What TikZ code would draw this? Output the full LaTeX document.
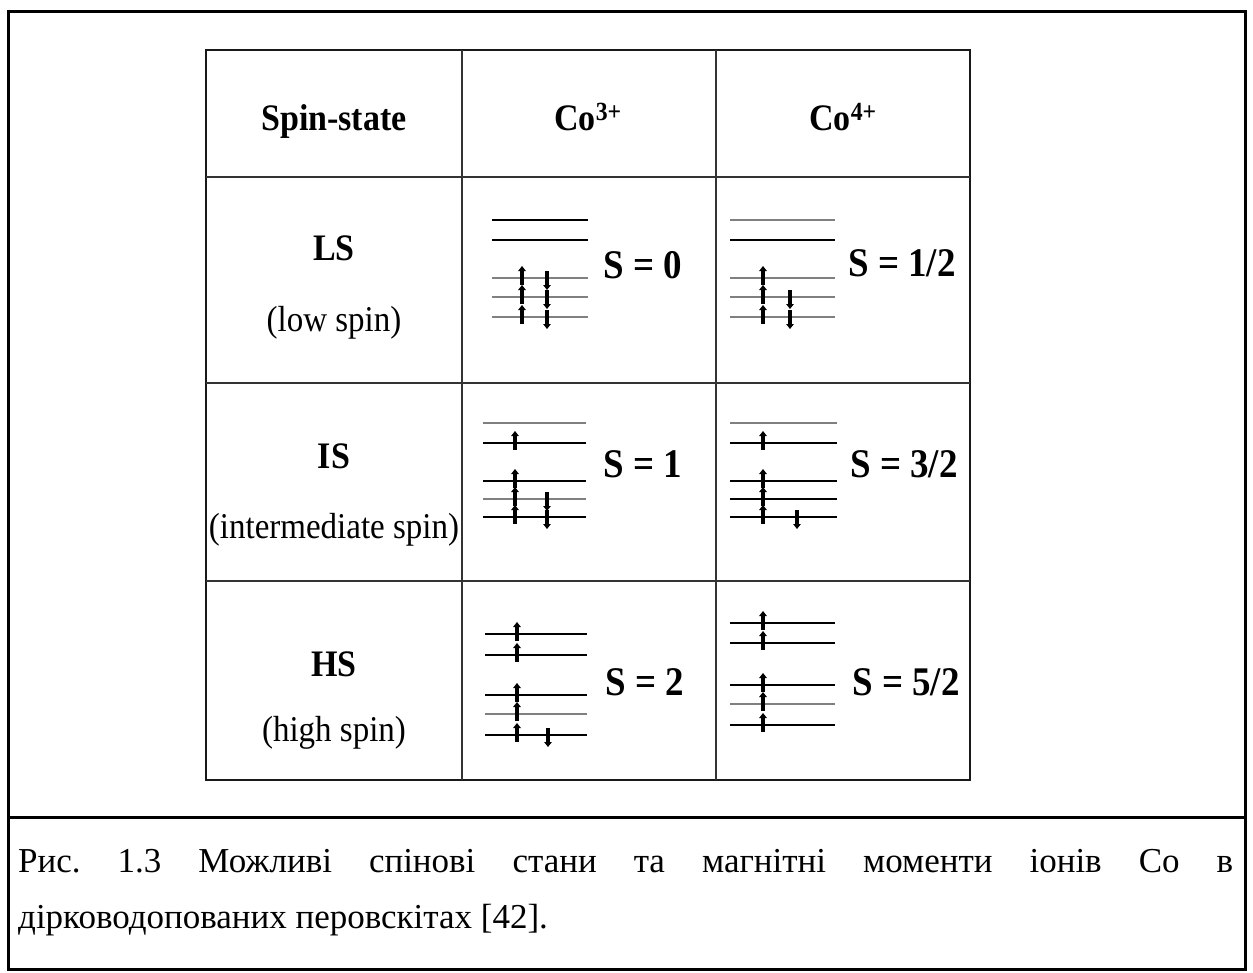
\documentclass[tikz,border=0pt]{standalone}
\usepackage{graphicx}
\usepackage{fontspec}
\setmainfont{Liberation Serif}
\usetikzlibrary{arrows.meta}
% slightly taller letterforms for the table text
\newcommand\tall[1]{\scalebox{1}[1.1]{#1}}
\begin{document}
\begin{tikzpicture}[x=1pt,y=-1pt,
  outerframe/.style={line width=3pt},
  tabout/.style={line width=2.2pt, black!90},
  tabin/.style={line width=1.3pt, black!80},
  lvl/.style={line width=1.5pt, black},
  lvlg/.style={line width=1.6pt, black!50},
  spin/.style={line width=3.4pt, -{Triangle[length=5pt,width=7.5pt]}},
  hdr/.style={font=\fontsize{34}{40}\selectfont\bfseries, inner sep=0pt, anchor=base},
  lab/.style={font=\fontsize{33}{38}\selectfont, inner sep=0pt},
  sval/.style={font=\fontsize{37}{42}\selectfont\bfseries, anchor=base west, inner sep=0pt},
  captext/.style={font=\fontsize{35}{40}\selectfont, inner sep=0pt, anchor=base west},
]
\newcommand\spinup[2]{\draw[spin] (#1,#2+7) -- (#1,#2-12);}
\newcommand\spindn[2]{\draw[spin] (#1,#2-7) -- (#1,#2+12);}

\useasboundingbox (0,0) rectangle (1253,972);

% outer frame and caption separator
\draw[outerframe] (8,11) rectangle (1245,969);
\draw[outerframe] (8,817) -- (1245,817);

% table grid
\draw[tabout] (206,50) rectangle (970,780);
\draw[tabin] (462,50) -- (462,780);
\draw[tabin] (716,50) -- (716,780);
\draw[tabin] (206,177) -- (970,177);
\draw[tabin] (206,383) -- (970,383);
\draw[tabin] (206,581) -- (970,581);

% header row
\node[hdr] (spinstate) at (334,130) {\tall{Spin-state}};
\node[hdr] (co3) at (588,130) {\tall{Co\textsuperscript{3+}}};
\node[hdr] (co4) at (843,130) {\tall{Co\textsuperscript{4+}}};

% row labels
\node[hdr] (ls) at (334,260) {\tall{LS}};
\node[lab] (lsn) at (334,323) {\tall{(low spin)}};
\node[hdr] (is) at (334,468) {\tall{IS}};
\node[lab] (isn) at (334,530) {\tall{(intermediate spin)}};
\node[hdr] (hs) at (334,676) {\tall{HS}};
\node[lab] (hsn) at (334,733) {\tall{(high spin)}};

% LS, Co3+
\draw[lvl] (492,220) -- (588,220);
\draw[lvl] (492,240) -- (588,240);
\foreach \y in {278,297,317} {\draw[lvlg] (492,\y) -- (588,\y);}
\foreach \y in {278,297,317} {\spinup{522}{\y}\spindn{547}{\y}}
\node[sval] (s1) at (603,278) {\tall{S = 0}};

% LS, Co4+
\draw[lvlg, line width=1.2pt] (730,220) -- (835,220);
\draw[lvl] (730,240) -- (835,240);
\foreach \y in {278,297,317} {\draw[lvlg] (730,\y) -- (835,\y);}
\foreach \y in {278,297,317} {\spinup{763}{\y}}
\foreach \y in {297,317} {\spindn{790}{\y}}
\node[sval] (s2) at (848,276) {\tall{S = 1/2}};

% IS, Co3+
\draw[lvlg] (483,423) -- (586,423);
\draw[lvl] (483,443) -- (586,443);
\draw[lvl] (483,481) -- (586,481);
\draw[lvlg] (483,499) -- (586,499);
\draw[lvl] (483,517) -- (586,517);
\foreach \y in {443,481,499,517} {\spinup{515}{\y}}
\foreach \y in {499,517} {\spindn{547}{\y}}
\node[sval] (s3) at (603,477) {\tall{S = 1}};

% IS, Co4+
\draw[lvlg] (730,423) -- (837,423);
\foreach \y in {443,481,499,517} {\draw[lvl] (730,\y) -- (837,\y);}
\foreach \y in {443,481,499,517} {\spinup{763}{\y}}
\spindn{797}{517}
\node[sval] (s4) at (850,477) {\tall{S = 3/2}};

% HS, Co3+
\foreach \y in {634,655,695,735} {\draw[lvl] (485,\y) -- (587,\y);}
\draw[lvlg] (485,714) -- (587,714);
\foreach \y in {634,655,695,714,735} {\spinup{517}{\y}}
\spindn{548}{735}
\node[sval] (s5) at (605,695) {\tall{S = 2}};

% HS, Co4+
\foreach \y in {623,643,685,725} {\draw[lvl] (730,\y) -- (835,\y);}
\draw[lvlg] (730,704) -- (835,704);
\foreach \y in {623,643,685,704,725} {\spinup{763}{\y}}
\node[sval] (s6) at (852,695) {\tall{S = 5/2}};

% caption
\node[captext] (cap1) at (18,872) {\hbox to 1215pt{Рис.\hfill 1.3\hfill Можливі\hfill спінові\hfill стани\hfill та\hfill магнітні\hfill моменти\hfill іонів\hfill Co\hfill в}};
\node[captext] (cap2) at (18,928) {дірководопованих перовскітах [42].};
\end{tikzpicture}
\end{document}
